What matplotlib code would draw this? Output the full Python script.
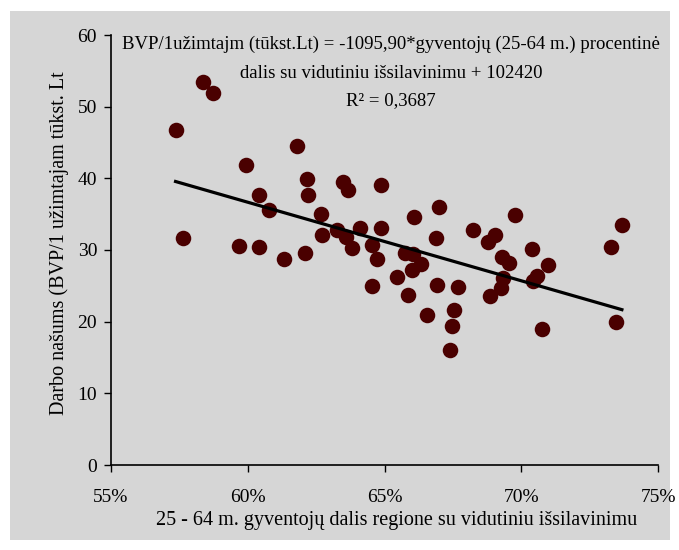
import numpy as np
import matplotlib.pyplot as plt
from matplotlib.patches import Rectangle

# === Duomenys ===
x_dalis = [57.36, 57.64, 58.37, 58.74, 59.69, 59.93, 60.42, 60.42, 60.79, 61.33,
           61.81, 62.09, 62.17, 62.22, 62.66, 62.70, 63.49, 63.68, 63.25, 63.61,
           63.80, 64.10, 64.89, 64.89, 64.53, 64.74, 64.53, 65.44, 65.75, 66.07,
           66.06, 66.33, 65.99, 65.86, 67.00, 66.88, 66.93, 66.57, 67.68, 67.54,
           67.46, 67.41, 68.22, 68.78, 69.05, 69.77, 70.41, 69.29, 69.54, 70.98,
           70.59, 70.44, 69.34, 69.25, 68.85, 70.76, 73.68, 73.27, 73.46]
y_nasumas = [46.74, 31.63, 53.48, 51.86, 30.56, 41.86, 30.38, 37.74, 35.58, 28.74,
             44.55, 29.54, 39.87, 37.72, 35.07, 32.09, 39.42, 38.44, 32.79, 31.86,
             30.28, 33.03, 39.07, 33.03, 30.63, 28.70, 24.98, 26.23, 29.65, 34.65,
             29.44, 28.09, 27.17, 23.76, 35.96, 31.67, 25.05, 20.93, 24.88, 21.63,
             19.40, 16.05, 32.79, 31.05, 32.09, 34.88, 30.10, 29.07, 28.14, 27.84,
             26.37, 25.67, 26.16, 24.70, 23.65, 18.91, 33.45, 30.35, 20.00]

x_ticks = [55, 60, 65, 70, 75]
x_tick_labels = ["55%", "60%", "65%", "70%", "75%"]
y_ticks = [0, 10, 20, 30, 40, 50, 60]

# tiesinės regresijos koeficientai (Lt)
slope = -1095.90
intercept = 102420

eq_lines = ["BVP/1užimtajm (tūkst.Lt) = -1095,90*gyventojų (25-64 m.) procentinė",
            "dalis su vidutiniu išsilavinimu + 102420",
            "R² = 0,3687"]

plt.rcParams['font.family'] = ['Liberation Serif', 'DejaVu Serif']

fig = plt.figure(figsize=(6.79, 5.50), dpi=100)
fig.patch.set_facecolor('white')
fig.patches.append(Rectangle((10 / 679, 10 / 550), 660 / 679, 529 / 550,
                             transform=fig.transFigure, facecolor='#d6d6d6',
                             edgecolor='none', zorder=-10))

ax = fig.add_axes([111 / 679, 1 - 465 / 550, 547 / 679, 430 / 550])
ax.set_facecolor('none')

ax.scatter(x_dalis, y_nasumas, s=125, color='#4a0000', zorder=2, linewidths=0)

xs = np.array([min(x_dalis), max(x_dalis)])
ax.plot(xs, (slope * xs + intercept) / 1000, color='black', lw=2.3, zorder=3)

ax.set_xlim(55, 75)
ax.set_ylim(0, 60)
ax.set_xticks(x_ticks)
ax.set_xticklabels(x_tick_labels)
ax.set_yticks(y_ticks)
ax.tick_params(direction='out', length=5, width=1, labelsize=14, colors='black')
ax.tick_params(axis='x', pad=12)
ax.tick_params(axis='y', pad=5)
for s in ['top', 'right']:
    ax.spines[s].set_visible(False)
for s in ['left', 'bottom']:
    ax.spines[s].set_linewidth(1.2)

ax.set_xlabel("25 - 64 m. gyventojų dalis regione su vidutiniu išsilavinimu", fontsize=14.5)
ax.xaxis.set_label_coords(0.523, -0.107)
ax.set_ylabel("Darbo našums (BVP/1 užimtajam tūkst. Lt", fontsize=14.5, labelpad=4)
ax.yaxis.set_label_coords(-0.077, 0.515)

for yy, line in zip([0.979, 0.9116, 0.8465], eq_lines):
    ax.text(0.512, yy, line, transform=ax.transAxes, ha='center', va='center',
            fontsize=13.5, zorder=4)

plt.savefig("out.png", dpi=100)
